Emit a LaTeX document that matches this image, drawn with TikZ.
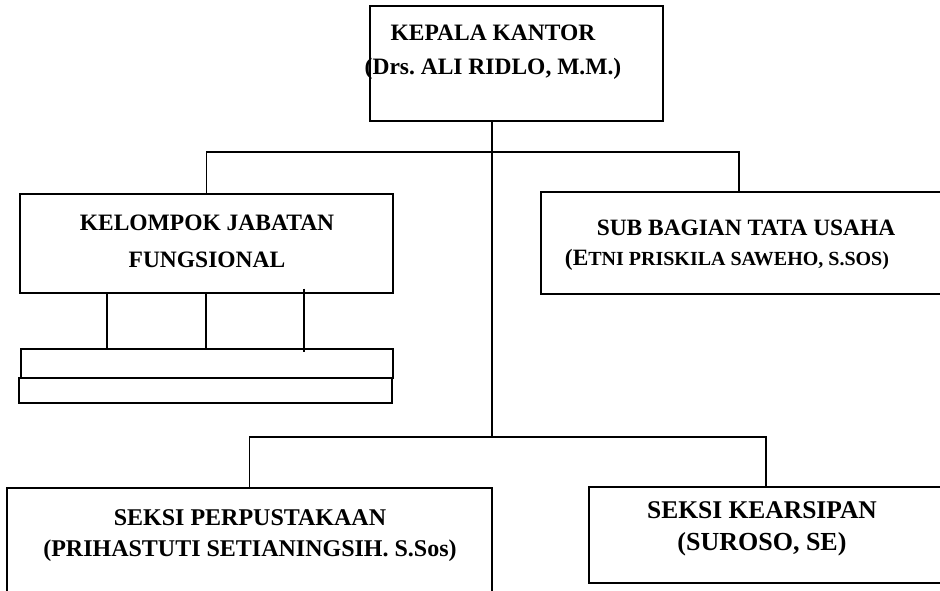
\documentclass[tikz,border=0pt]{standalone}
\usepackage{fontspec}
\setmainfont{Liberation Serif}
\usetikzlibrary{positioning}

\begin{document}
\frenchspacing
\begin{tikzpicture}[
    x=1pt, y=-1pt,
    box/.style={rectangle, draw=black, line width=1.3pt, inner sep=0pt},
    txt/.style={align=center, inner sep=0pt},
    conn/.style={draw=black, line width=1.2pt}
]
\clip (0,0) rectangle (940,590);
\fill[white] (0,0) rectangle (940,590);

% boxes
\node[box, minimum width=293pt, minimum height=115pt] (kepala) at (516.5,63.5) {};
\node[box, minimum width=373pt, minimum height=99pt] (fungsional) at (206.5,243.5) {};
\node[box, minimum width=409pt, minimum height=102pt] (tatausaha) at (745.5,243) {};
\node[box, minimum width=372pt, minimum height=29pt] (strip1) at (207,363.5) {};
\node[box, minimum width=373pt, minimum height=25pt] (strip2) at (205.5,390.5) {};
\node[box, minimum width=485pt, minimum height=112pt] (perpustakaan) at (249.5,544) {};
\node[box, minimum width=361pt, minimum height=96pt] (kearsipan) at (769.5,535) {};

% texts
\node[txt, font=\fontsize{23.5}{34}\selectfont\bfseries] (t-kepala) at (493,52)
    {KEPALA KANTOR\\(Drs. ALI RIDLO, M.M.)};
\node[txt, font=\fontsize{23.5}{37}\selectfont\bfseries] (t-fungsional) at (207,241)
    {KELOMPOK JABATAN\\FUNGSIONAL};
\node[txt, font=\fontsize{23.4}{30}\selectfont\bfseries] (t-tatausaha) at (746,245)
    {SUB BAGIAN TATA USAHA\\(E{\fontsize{20}{30}\selectfont TNI PRISKILA SAWEHO, S.SOS)}\hspace*{38pt}};
\node[txt, font=\fontsize{24}{31}\selectfont\bfseries] (t-perpustakaan) at (250,535.5)
    {SEKSI PERPUSTAKAAN\\(PRIHASTUTI SETIANINGSIH. S.Sos)};
\node[txt, font=\fontsize{25.5}{32}\selectfont\bfseries] (t-kearsipan) at (762,529)
    {SEKSI KEARSIPAN\\{\fontsize{26}{32}\selectfont(SUROSO, SE)}};

% connectors
\coordinate (busA) at (492,152);
\coordinate (busB) at (492,437);
\draw[conn] (kepala.south -| busB) -- (busB);
\draw[conn] (fungsional.north) |- (busA) -| ([xshift=-6.5pt]tatausaha.north);
\draw[conn] (perpustakaan.north) |- (busB) -| ([xshift=-3.5pt]kearsipan.north);
\foreach \x in {107,206}
    \draw[conn] (fungsional.south -| \x,0) -- (strip1.north -| \x,0);
\draw[conn] ([yshift=5pt]fungsional.south -| 304,0) -- ([yshift=-4pt]strip1.north -| 304,0);

\end{tikzpicture}
\end{document}
